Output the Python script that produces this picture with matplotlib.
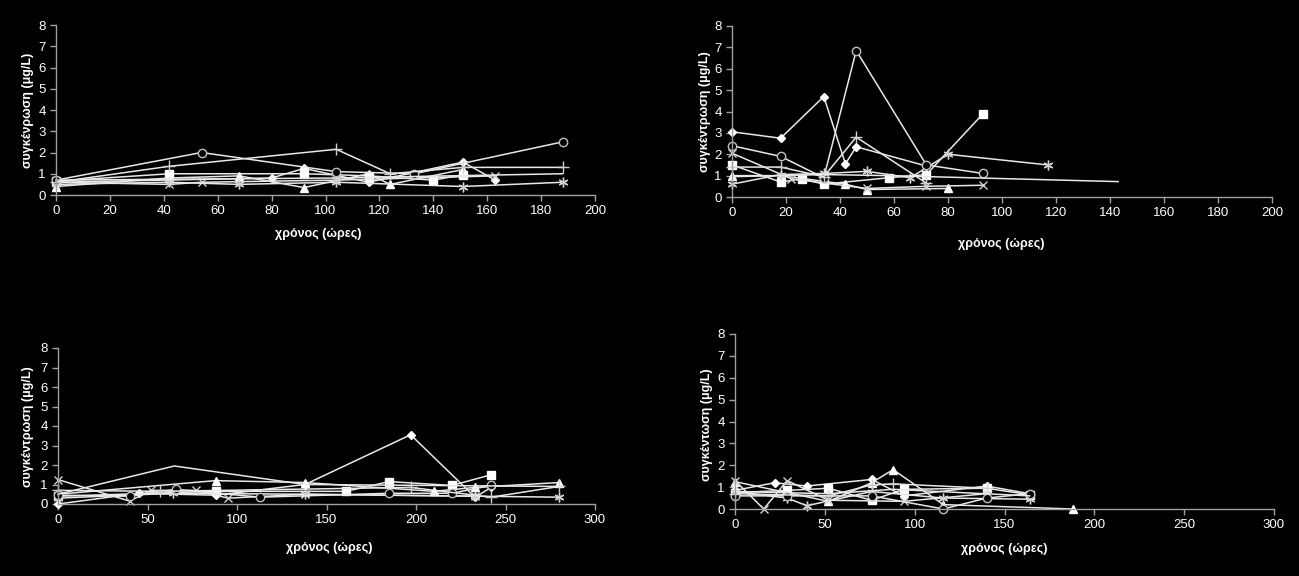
import matplotlib
matplotlib.use("Agg")
import matplotlib.pyplot as plt

plt.rcParams["font.family"] = ["Liberation Sans", "DejaVu Sans"]

# --- Δεδομένα: χρόνος (ώρες) και συγκέντρωση (μg/L) για κάθε διάγραμμα ---
# πάνω αριστερά
tl_diamond_t = [0, 80, 92, 116, 151, 163]
tl_diamond_c = [0.6, 0.8, 1.25, 0.6, 1.55, 0.7]
tl_square_t = [0, 42, 92, 116, 140, 151]
tl_square_c = [0.65, 1.0, 1.0, 0.9, 0.7, 0.95]
tl_triangle_t = [0, 42, 68, 92, 116, 124, 151]
tl_triangle_c = [0.4, 0.8, 0.9, 0.35, 1.0, 0.5, 1.2]
tl_x_t = [0, 42, 54, 104, 163]
tl_x_c = [0.6, 0.5, 0.6, 0.7, 0.9]
tl_star_t = [0, 42, 68, 104, 151, 188]
tl_star_c = [0.5, 0.6, 0.5, 0.6, 0.4, 0.6]
tl_circle_t = [0, 54, 104, 133, 188]
tl_circle_c = [0.7, 2.0, 1.1, 1.0, 2.5]
tl_plus_t = [0, 42, 104, 124, 151, 188]
tl_plus_c = [0.6, 1.35, 2.15, 1.0, 1.3, 1.3]
tl_plain_t = [0, 104, 124, 188]
tl_plain_c = [0.7, 0.8, 0.85, 1.0]

# πάνω δεξιά
tr_diamond_t = [0, 18, 34, 42, 46, 72]
tr_diamond_c = [3.05, 2.75, 4.7, 1.55, 2.35, 1.45]
tr_square_t = [0, 18, 26, 34, 58, 72, 93]
tr_square_c = [1.5, 0.7, 0.85, 0.6, 0.9, 1.05, 3.9]
tr_triangle_t = [0, 18, 42, 50, 80]
tr_triangle_c = [1.0, 1.0, 0.6, 0.35, 0.4]
tr_x_t = [0, 22, 50, 72, 93]
tr_x_c = [2.05, 0.85, 0.4, 0.5, 0.55]
tr_star_t = [0, 18, 34, 50, 66, 80, 117]
tr_star_c = [0.6, 1.05, 1.1, 1.2, 0.9, 2.0, 1.5]
tr_circle_t = [0, 18, 34, 46, 72, 93]
tr_circle_c = [2.4, 1.9, 0.9, 6.85, 1.5, 1.1]
tr_plus_t = [0, 18, 34, 46, 72]
tr_plus_c = [1.4, 1.4, 0.95, 2.8, 0.65]
tr_plain_t = [0, 34, 58, 143]
tr_plain_c = [0.95, 1.05, 1.0, 0.72]

# κάτω αριστερά
bl_diamond_t = [0, 45, 88, 138, 197, 233, 242]
bl_diamond_c = [0.0, 0.55, 0.45, 1.0, 3.55, 0.35, 0.85]
bl_square_t = [0, 88, 161, 185, 220, 242]
bl_square_c = [0.4, 0.65, 0.65, 1.15, 0.95, 1.5]
bl_triangle_t = [0, 88, 138, 210, 233, 280]
bl_triangle_c = [0.5, 1.2, 1.1, 0.65, 0.85, 1.1]
bl_x_t = [0, 40, 52, 77, 95, 138, 233]
bl_x_c = [1.25, 0.15, 0.7, 0.7, 0.3, 0.5, 0.4]
bl_star_t = [0, 64, 138, 233, 280]
bl_star_c = [0.3, 0.55, 0.5, 0.4, 0.35]
bl_circle_t = [0, 40, 66, 113, 185, 220, 242]
bl_circle_c = [0.45, 0.4, 0.75, 0.35, 0.55, 0.55, 0.95]
bl_plus_t = [0, 57, 197, 242, 280]
bl_plus_c = [0.7, 0.65, 0.85, 0.35, 0.9]
bl_plain_t = [0, 65, 138, 280]
bl_plain_c = [0.5, 1.95, 1.0, 0.9]

# κάτω δεξιά
br_diamond_t = [0, 22, 40, 76, 94, 140, 164]
br_diamond_c = [0.85, 1.2, 1.05, 1.35, 0.6, 1.05, 0.7]
br_square_t = [0, 29, 52, 76, 94, 140, 164]
br_square_c = [0.75, 0.85, 0.95, 0.4, 0.9, 0.95, 0.65]
br_triangle_t = [0, 52, 76, 88, 116, 188]
br_triangle_c = [1.25, 0.35, 1.2, 1.8, 0.2, 0.0]
br_x_t = [0, 16, 29, 52, 94, 140]
br_x_c = [1.3, 0.0, 1.3, 0.4, 0.35, 0.7]
br_star_t = [0, 29, 40, 76, 116, 164]
br_star_c = [0.8, 0.5, 0.15, 0.8, 0.5, 0.45]
br_circle_t = [0, 29, 76, 116, 140, 164]
br_circle_c = [0.6, 0.6, 0.6, 0.0, 0.5, 0.7]
br_plus_t = [0, 52, 76, 88, 140]
br_plus_c = [0.7, 0.6, 1.1, 1.15, 0.95]
br_plain_t = [0, 52, 88, 164]
br_plain_c = [0.8, 0.7, 0.9, 0.6]

XLABEL = "χρόνος (ώρες)"
W, H = 1299, 576

# στυλ σημείων όπως στο Excel (ασπρόμαυρο)
MARKERS = {
    "diamond": dict(marker="D", markersize=4.5, mfc="white", mec="white"),
    "square": dict(marker="s", markersize=5.5, mfc="white", mec="white"),
    "triangle": dict(marker="^", markersize=6, mfc="white", mec="white"),
    "x": dict(marker="x", markersize=6, mec="#d0d0d0", mew=1.0),
    "star": dict(marker=(6, 2, 0), markersize=7, mec="#d0d0d0", mew=1.0),
    "circle": dict(marker="o", markersize=6, mfc="black", mec="#c0c0c0", mew=1.0),
    "plus": dict(marker="+", markersize=8, mec="#d0d0d0", mew=1.0),
    "plain": dict(marker=None),
}

# box σε pixel: (αριστερά, πάνω, δεξιά, κάτω), θέσεις τίτλων αξόνων σε pixel
panels = [
    dict(box=(56, 25, 595, 195), xmax=200, xstep=20,
         xlab_at=(318, 234), ylab_at=(28, 110),
         ylabel="συγκένρωση (μg/L)",
         series=[("diamond", tl_diamond_t, tl_diamond_c), ("square", tl_square_t, tl_square_c),
                 ("triangle", tl_triangle_t, tl_triangle_c), ("x", tl_x_t, tl_x_c),
                 ("star", tl_star_t, tl_star_c), ("circle", tl_circle_t, tl_circle_c),
                 ("plus", tl_plus_t, tl_plus_c), ("plain", tl_plain_t, tl_plain_c)]),
    dict(box=(732, 26, 1272, 197), xmax=200, xstep=20,
         xlab_at=(1001, 244), ylab_at=(705, 112),
         ylabel="συγκέντρωση (μg/L)",
         series=[("diamond", tr_diamond_t, tr_diamond_c), ("square", tr_square_t, tr_square_c),
                 ("triangle", tr_triangle_t, tr_triangle_c), ("x", tr_x_t, tr_x_c),
                 ("star", tr_star_t, tr_star_c), ("circle", tr_circle_t, tr_circle_c),
                 ("plus", tr_plus_t, tr_plus_c), ("plain", tr_plain_t, tr_plain_c)]),
    dict(box=(58, 348, 595, 504), xmax=300, xstep=50,
         xlab_at=(329, 548), ylab_at=(28, 427),
         ylabel="συγκέντρωση (μg/L)",
         series=[("diamond", bl_diamond_t, bl_diamond_c), ("square", bl_square_t, bl_square_c),
                 ("triangle", bl_triangle_t, bl_triangle_c), ("x", bl_x_t, bl_x_c),
                 ("star", bl_star_t, bl_star_c), ("circle", bl_circle_t, bl_circle_c),
                 ("plus", bl_plus_t, bl_plus_c), ("plain", bl_plain_t, bl_plain_c)]),
    dict(box=(735, 334, 1274, 509), xmax=300, xstep=50,
         xlab_at=(1004, 549), ylab_at=(707, 425),
         ylabel="συγκέντωση (μg/L)",
         series=[("diamond", br_diamond_t, br_diamond_c), ("square", br_square_t, br_square_c),
                 ("triangle", br_triangle_t, br_triangle_c), ("x", br_x_t, br_x_c),
                 ("star", br_star_t, br_star_c), ("circle", br_circle_t, br_circle_c),
                 ("plus", br_plus_t, br_plus_c), ("plain", br_plain_t, br_plain_c)]),
]

fig = plt.figure(figsize=(W / 100, H / 100), dpi=100, facecolor="black")

for p in panels:
    x0, y0, x1, y1 = p["box"]
    ax = fig.add_axes([x0 / W, 1 - y1 / H, (x1 - x0) / W, (y1 - y0) / H], facecolor="black")
    for kind, t, c in p["series"]:
        ax.plot(t, c, color="#e8e8e8", lw=1.1, clip_on=False, **MARKERS[kind])

    ax.set_xlim(0, p["xmax"])
    ax.set_ylim(0, 8)
    ax.set_xticks(range(0, p["xmax"] + 1, p["xstep"]))
    ax.set_yticks(range(0, 9))

    for side in ("top", "right"):
        ax.spines[side].set_visible(False)
    for side in ("left", "bottom"):
        ax.spines[side].set_color("#a0a0a0")
        ax.spines[side].set_linewidth(1.0)
    ax.tick_params(colors="#a0a0a0", labelcolor="white", labelsize=9.5,
                   length=4, width=1.0, direction="out")

    ax.set_xlabel(XLABEL, color="white", fontsize=9, fontweight="bold")
    ax.set_ylabel(p["ylabel"], color="white", fontsize=9, fontweight="bold")
    ax.xaxis.set_label_coords(p["xlab_at"][0] / W, 1 - p["xlab_at"][1] / H, transform=fig.transFigure)
    ax.yaxis.set_label_coords(p["ylab_at"][0] / W, 1 - p["ylab_at"][1] / H, transform=fig.transFigure)
    ax.xaxis.label.set_va("center")
    ax.yaxis.label.set_va("center")

fig.savefig("out.png", facecolor="black")
